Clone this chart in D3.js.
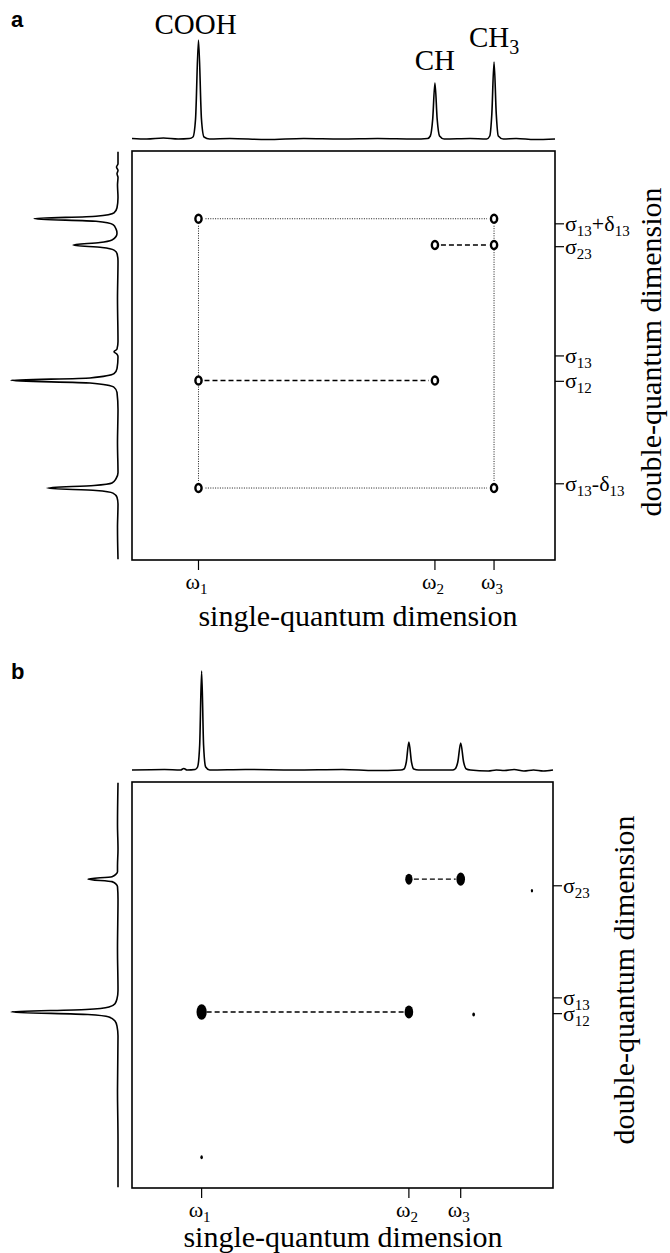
<!DOCTYPE html>
<html>
<head>
<meta charset="utf-8">
<script src="https://d3js.org/d3.v7.min.js"></script>
<style>
  body { margin: 0; background: #fff; }
  text { font-family: "Liberation Serif", "Times New Roman", serif; fill: #000; }
  .panel-label { font-family: "Liberation Sans", Arial, sans-serif; font-weight: bold; }
</style>
</head>
<body>
<div id="chart"></div>
<script>
  // ---- data ----
  // single-quantum 13C shifts (ppm): COOH, CH, CH3
  var groupNames = [["COOH"], ["CH"], ["CH", "3"]];
  var sqShifts = [177, 49, 17];
  var sqTickLabels = [["ω", "1"], ["ω", "2"], ["ω", "3"]];
  var topHeightsA = [99, 56, 77];

  // panel a: 1D projections [ppm, intensity]
  var topA = [[213, 0.5], [205, 0], [196, 1], [188, 0], [182, 0.5], [180, 2], [178.6, 20], [177, 99],
    [175.4, 20], [174, 2], [171, 0], [160, 0.5], [140, -0.5], [120, 0.5], [100, 0], [80, 0.5], [60, 0],
    [53, 0.5], [51.5, 3], [50.2, 20], [49, 56], [47.8, 20], [46.5, 3], [44, 0], [30, 0.5], [21, 0],
    [19.3, 3], [18.2, 25], [17, 77], [15.8, 25], [14.7, 3], [12, 0], [5, 0.5], [-5, -0.5], [-16, 0]];
  var leftA = [[-44, 0], [-30, 0], [-26, 1.5], [-22, 0], [-18, 1], [-14, 0], [-5, 0.5], [10, 0], [22, 1],
    [28, 4], [32, 22], [35, 84], [38, 22], [42, 5], [47, 2], [52, 1], [56, 2], [60, 6], [63, 18], [66, 45],
    [69, 16], [72, 4], [76, 1], [85, 0], [130, 0.5], [180, 0], [189, 1], [192, 4], [195, 1], [198, 0],
    [212, 1], [218, 4], [223, 28], [226, 107], [229, 28], [234, 4], [240, 1], [260, 0], [300, 0.5],
    [335, 0], [342, 2], [347, 6], [350, 24], [353, 71], [356, 22], [359, 5], [364, 1], [372, 0],
    [400, 0.5], [437, 0]];
  // panel a cross peaks [single-quantum ppm, double-quantum ppm]
  var crossA = [[177, 35], [17, 35], [49, 66], [17, 66], [177, 226], [49, 226], [177, 353], [17, 353]];
  var dottedA = [[0, 1], [0, 6], [1, 7], [6, 7]];
  var dashedA = [[2, 3], [4, 5]];
  var dqTicksA = [41, 68, 197, 227, 348];
  var dqTickLabelsA = [["σ", "13", "+δ", "13"], ["σ", "23"], ["σ", "13"], ["σ", "12"], ["σ", "13", "-δ", "13"]];

  // panel b
  var topB = [[220, 0], [200, 0.5], [190, 0], [188, 1.5], [186, 0], [181, 0.5], [179.5, 3], [178.2, 25],
    [177, 99], [175.8, 25], [174.5, 3], [172, 0], [150, 0.5], [120, 0], [90, 0.5], [70, -0.5], [54, 0],
    [52, 1], [50.6, 8], [49, 28], [47.4, 8], [46, 1], [43, 0], [22, 0], [20.5, 1], [18.8, 8], [17, 27],
    [15.2, 8], [13.5, 1], [11, 0], [0, -1], [-5, 0], [-10, -0.5], [-16, 0.5], [-22, -1], [-28, 0],
    [-34, -1], [-40, 0]];
  var leftB = [[-50, 0], [0, 0.5], [30, 0], [50, 0.5], [57, 0.5], [60, 2], [63, 6], [66, 30], [69, 6],
    [72, 2], [75, 0.5], [90, 0], [150, 0.5], [200, 0], [210, 1], [216, 3], [220, 9], [223, 32],
    [226, 107], [229, 30], [232, 9], [237, 3], [243, 1], [255, 0], [320, 0.5], [380, 0], [437, 0]];
  // [sq ppm, dq ppm, intensity]
  var crossB = [[49, 66, 5], [17, 66, 7], [177, 226, 10], [49, 226, 7], [-27, 80, 0.5], [9, 229, 0.7], [177, 401, 0.6]];
  var dashedB = [[0, 1], [2, 3]];
  var dqTicksB = [74, 209, 228];
  var dqTickLabelsB = [["σ", "23"], ["σ", "13"], ["σ", "12"]];

  var svg = d3.select("#chart").append("svg")
    .attr("width", 670)
    .attr("height", 1253);

  var panels = [
    { label: "a", labelY: 27, box: { x0: 132, x1: 555, y0: 151, y1: 560 },
      xDomain: [213, -16], yDomain: [-45, 438], topBase: 139, leftBase: 118,
      top: topA, left: leftA, cross: crossA, dotted: dottedA, dashed: dashedA,
      ticks: dqTicksA, tickLabels: dqTickLabelsA, filled: false,
      omegaY: 589, sqTitle: [358, 626], dqTitle: [661, 352], names: true },
    { label: "b", labelY: 679, box: { x0: 132, x1: 553, y0: 782, y1: 1188 },
      xDomain: [220, -40], yDomain: [-51, 438], topBase: 770, leftBase: 118,
      top: topB, left: leftB, cross: crossB, dotted: [], dashed: dashedB,
      ticks: dqTicksB, tickLabels: dqTickLabelsB, filled: true,
      omegaY: 1217, sqTitle: [343, 1247], dqTitle: [634, 980], names: false }
  ];

  // text with alternating normal / subscript parts
  function addParts(t, parts, size, subSize, drop) {
    var down = false;
    parts.forEach(function(p, i) {
      var sub = i % 2 === 1;
      var ts = t.append("tspan").text(p).attr("font-size", sub ? subSize : size);
      if (sub && !down) { ts.attr("dy", drop); down = true; }
      else if (!sub && down) { ts.attr("dy", -drop); down = false; }
    });
  }

  var rScale = d3.scaleSqrt().domain([0, 10]).range([0, 7.8]);

  panels.forEach(function(P) {
    var b = P.box;
    var x = d3.scaleLinear().domain(P.xDomain).range([b.x0, b.x1]);
    var y = d3.scaleLinear().domain(P.yDomain).range([b.y0, b.y1]);
    var iTop = d3.scaleLinear().domain([0, 100]).range([P.topBase, P.topBase - 100]);
    var iLeft = d3.scaleLinear().domain([0, 100]).range([P.leftBase, P.leftBase - 100]);
    var g = svg.append("g");

    g.append("text").attr("class", "panel-label")
      .attr("x", 11).attr("y", P.labelY)
      .attr("font-size", 22).text(P.label);

    // 1D projections
    g.append("path").datum(P.top)
      .attr("fill", "none").attr("stroke", "#000").attr("stroke-width", 1.6)
      .attr("d", d3.line().x(function(d) { return x(d[0]); })
        .y(function(d) { return iTop(d[1]); }).curve(d3.curveMonotoneX));
    g.append("path").datum(P.left)
      .attr("fill", "none").attr("stroke", "#000").attr("stroke-width", 1.6)
      .attr("d", d3.line().x(function(d) { return iLeft(d[1]); })
        .y(function(d) { return y(d[0]); }).curve(d3.curveMonotoneY));

    if (P.names) {
      var gap = [6, 13, 15];
      g.selectAll(".name").data(groupNames).enter().append("text")
        .attr("class", "name")
        .attr("x", function(d, i) { return x(sqShifts[i]) + (i === 0 ? -3 : 0); })
        .attr("y", function(d, i) { return iTop(topHeightsA[i]) - gap[i]; })
        .attr("text-anchor", "middle")
        .each(function(d) { addParts(d3.select(this), d, 29, 20, 7); });
    }

    // frame
    g.append("rect")
      .attr("x", b.x0).attr("y", b.y0)
      .attr("width", b.x1 - b.x0).attr("height", b.y1 - b.y0)
      .attr("fill", "none").attr("stroke", "#000").attr("stroke-width", 1.6);

    // bottom ticks (single-quantum)
    sqShifts.forEach(function(s, i) {
      g.append("line").attr("x1", x(s)).attr("x2", x(s))
        .attr("y1", b.y1).attr("y2", b.y1 + 10)
        .attr("stroke", "#000").attr("stroke-width", 1.2);
      var t = g.append("text").attr("x", x(s) - 2).attr("y", P.omegaY)
        .attr("text-anchor", "middle");
      addParts(t, sqTickLabels[i], 22, 15, 5);
    });
    g.append("text").attr("x", P.sqTitle[0]).attr("y", P.sqTitle[1])
      .attr("text-anchor", "middle").attr("font-size", 30)
      .text("single-quantum dimension");

    // right ticks (double-quantum)
    P.ticks.forEach(function(v, i) {
      g.append("line").attr("x1", b.x1).attr("x2", b.x1 + 9)
        .attr("y1", y(v)).attr("y2", y(v))
        .attr("stroke", "#000").attr("stroke-width", 1.2);
      var t = g.append("text").attr("x", b.x1 + 10).attr("y", y(v) + 7);
      addParts(t, P.tickLabels[i], 22, 15, 5);
    });
    g.append("text")
      .attr("transform", "translate(" + P.dqTitle[0] + "," + P.dqTitle[1] + ") rotate(-90)")
      .attr("text-anchor", "middle").attr("font-size", 30)
      .text("double-quantum dimension");

    // connecting lines between cross peaks
    function connect(pairs, dash, width, gapPx) {
      pairs.forEach(function(pr) {
        var p = P.cross[pr[0]], q = P.cross[pr[1]];
        var x1 = x(p[0]), y1 = y(p[1]), x2 = x(q[0]), y2 = y(q[1]);
        var len = Math.hypot(x2 - x1, y2 - y1), ux = (x2 - x1) / len, uy = (y2 - y1) / len;
        g.append("line")
          .attr("x1", x1 + ux * gapPx).attr("y1", y1 + uy * gapPx)
          .attr("x2", x2 - ux * gapPx).attr("y2", y2 - uy * gapPx)
          .attr("stroke", "#000").attr("stroke-width", width)
          .attr("stroke-dasharray", dash);
      });
    }
    connect(P.dotted, "1,1.4", 0.9, 7);
    connect(P.dashed, "5,3", 1.4, P.filled ? 5 : 6);

    // cross peaks
    if (P.filled) {
      g.selectAll(".pk").data(P.cross).enter().append("ellipse")
        .attr("cx", function(d) { return x(d[0]); })
        .attr("cy", function(d) { return y(d[1]); })
        .attr("rx", function(d) { return rScale(d[2]) * 0.66; })
        .attr("ry", function(d) { return rScale(d[2]); })
        .attr("fill", "#000");
    } else {
      g.selectAll(".pk").data(P.cross).enter().append("ellipse")
        .attr("cx", function(d) { return x(d[0]); })
        .attr("cy", function(d) { return y(d[1]); })
        .attr("rx", 3.1).attr("ry", 4)
        .attr("fill", "#fff").attr("stroke", "#000").attr("stroke-width", 2.4);
    }
  });
</script>
</body>
</html>
